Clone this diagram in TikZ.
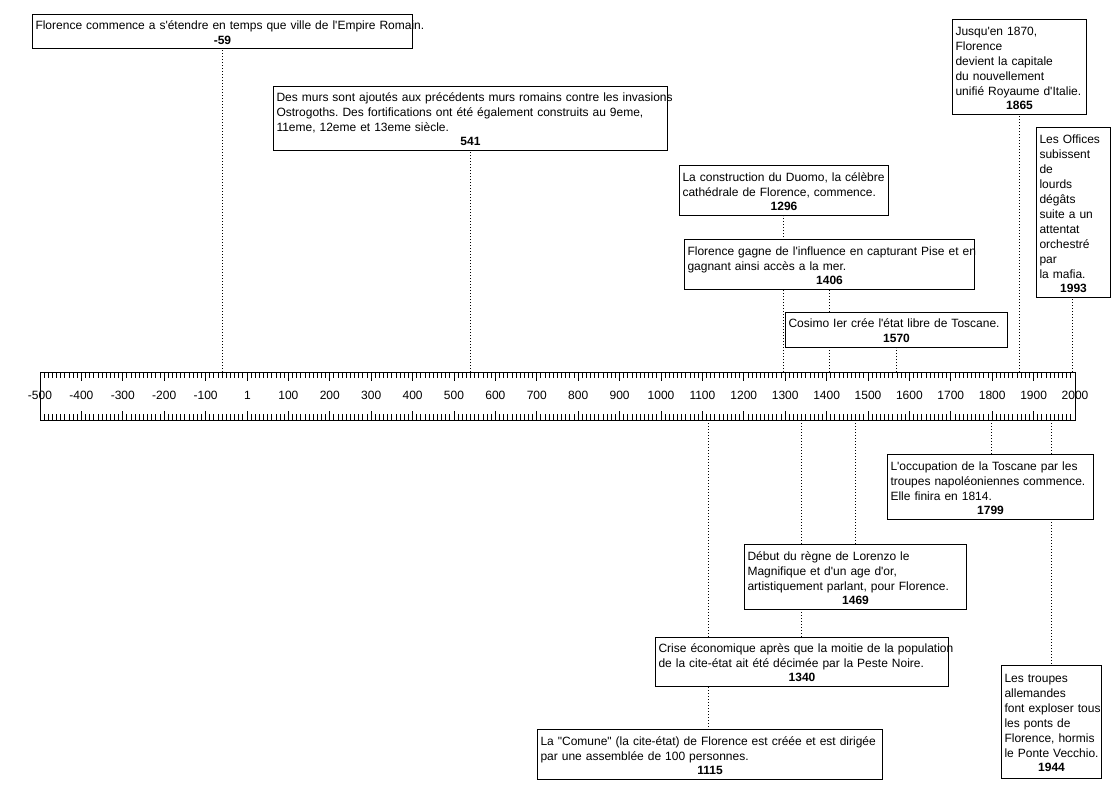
\documentclass[tikz,border=0pt]{standalone}
\usepackage{fontspec}
\setmainfont{Liberation Sans}[Ligatures=TeXOff]
\usetikzlibrary{backgrounds}
\frenchspacing

% event text: left-aligned lines, then the year centred in bold
\newcommand{\evt}[2]{\begin{tabular}{@{}l@{}}#1\end{tabular}\par{\centering\bfseries #2\par}}

\begin{document}
\begin{tikzpicture}[x=1pt, y=-1pt,
  every node/.style={font=\fontsize{12}{15}\selectfont},
  evbox/.style={draw, fill=white, line width=1pt, anchor=north west,
    align=left, inner xsep=3pt, inner ysep=2pt},
  dotline/.style={line width=1pt, dash pattern=on 1pt off 2pt}]
  \useasboundingbox (0,0) rectangle (1115,790);

  % Time axis
  \node[draw, line width=1pt, minimum width=1035pt, minimum height=48pt,
    inner sep=0pt, anchor=north west] (axis) at (40,372) {};
  \foreach \k in {0,...,250} {
    \pgfmathsetmacro{\tl}{ifthenelse(mod(\k,10)==0,9,6)}
    \draw[line width=0.9pt] (40+\k*4.14, 372) -- ++(0,\tl);
    \draw[line width=0.9pt] (40+\k*4.14, 420) -- ++(0,-\tl);
  }
  \foreach \t in {-500,-400,...,-100,1,100,200,...,2000} {
    \node (lbl\t) at ({40+(\t+500)*0.414}, 395) {\t};
  }

  % Events above the axis
  \node[evbox, text width=374pt, minimum height=34pt] (romain) at (32,14)
    {\evt{Florence commence a s'étendre en temps que ville de l'Empire Romain.}{-59}};
  \node[evbox, text width=388pt, minimum height=64pt] (murs) at (273,86)
    {\evt{Des murs sont ajoutés aux précédents murs romains contre les invasions\\
      Ostrogoths. Des fortifications ont été également construits au 9eme,\\
      11eme, 12eme et 13eme siècle.}{541}};
  \node[evbox, text width=203pt, minimum height=50pt] (duomo) at (679,165)
    {\evt{La construction du Duomo, la célèbre\\
      cathédrale de Florence, commence.}{1296}};
  \node[evbox, text width=284pt, minimum height=50pt] (pise) at (684,239)
    {\evt{Florence gagne de l'influence en capturant Pise et en\\
      gagnant ainsi accès a la mer.}{1406}};
  \node[evbox, text width=216pt, minimum height=35pt] (cosimo) at (785,312)
    {\evt{Cosimo Ier crée l'état libre de Toscane.}{1570}};
  \node[evbox, text width=128pt, minimum height=95pt] (capitale) at (952,19)
    {\evt{Jusqu'en 1870,\\ Florence\\ devient la capitale\\
      du nouvellement\\ unifié Royaume d'Italie.}{1865}};
  \node[evbox, text width=68pt, minimum height=170pt] (offices) at (1036,127)
    {\evt{Les Offices\\ subissent\\ de\\ lourds\\ dégâts\\ suite a un\\
      attentat\\ orchestré\\ par\\ la mafia.}{1993}};

  % Events below the axis
  \node[evbox, text width=200pt, minimum height=65pt] (napoleon) at (887,454)
    {\evt{L'occupation de la Toscane par les\\
      troupes napoléoniennes commence.\\ Elle finira en 1814.}{1799}};
  \node[evbox, text width=216pt, minimum height=65pt] (lorenzo) at (744,544)
    {\evt{Début du règne de Lorenzo le\\ Magnifique et d'un age d'or,\\
      artistiquement parlant, pour Florence.}{1469}};
  \node[evbox, text width=287pt, minimum height=49pt] (peste) at (655,637)
    {\evt{Crise économique après que la moitie de la population\\
      de la cite-état ait été décimée par la Peste Noire.}{1340}};
  \node[evbox, text width=339pt, minimum height=50pt] (comune) at (537,729)
    {\evt{La "Comune" (la cite-état) de Florence est créée et est dirigée\\
      par une assemblée de 100 personnes.}{1115}};
  \node[evbox, text width=94pt, minimum height=113pt] (ponts) at (1001,665)
    {\evt{Les troupes\\ allemandes\\ font exploser tous\\ les ponts de\\
      Florence, hormis\\ le Ponte Vecchio.}{1944}};

  % Dates on the axis
  \foreach \n/\yr in {romain/-59, murs/541, duomo/1296, pise/1406,
      cosimo/1570, capitale/1865, offices/1993} {
    \coordinate (\n-t) at ({40+(\yr+500)*0.414}, 372);
  }
  \foreach \n/\yr in {napoleon/1799, lorenzo/1469, peste/1340,
      comune/1115, ponts/1944} {
    \coordinate (\n-t) at ({40+(\yr+500)*0.414}, 420);
  }

  % Dotted leaders, behind the boxes
  \begin{scope}[on background layer]
    \foreach \n in {romain, murs, duomo, pise, cosimo, capitale, offices} {
      \draw[dotline] (\n-t) -- (\n-t |- \n.south);
    }
    \foreach \n in {napoleon, lorenzo, peste, comune, ponts} {
      \draw[dotline] (\n-t) -- (\n-t |- \n.north);
    }
  \end{scope}
\end{tikzpicture}
\end{document}
